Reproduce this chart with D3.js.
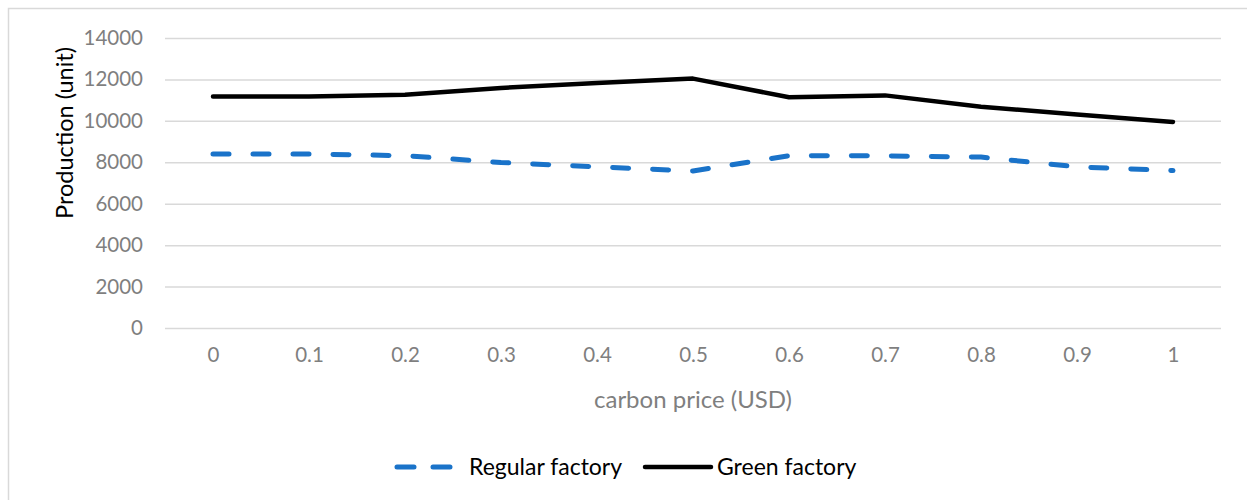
<!DOCTYPE html>
<html>
<head>
<meta charset="utf-8">
<script src="https://cdn.jsdelivr.net/npm/d3@7"></script>
<style>
  html, body { margin: 0; padding: 0; background: #fff; }
  svg { display: block; font-family: Lato, "Open Sans", sans-serif; }
</style>
</head>
<body>
<svg id="chart" width="1247" height="500"></svg>
<script>
// Production per factory type at each carbon price
const carbonPrices = ["0", "0.1", "0.2", "0.3", "0.4", "0.5", "0.6", "0.7", "0.8", "0.9", "1"];
const regularFactory = [8400, 8400, 8320, 7990, 7780, 7580, 8320, 8310, 8250, 7780, 7600];
const greenFactory = [11170, 11170, 11260, 11590, 11830, 12040, 11140, 11230, 10680, 10310, 9950];
const yTicks = [0, 2000, 4000, 6000, 8000, 10000, 12000, 14000];

const svg = d3.select("#chart");
const plot = { left: 165, right: 1221, top: 38, bottom: 328 };

// chart frame
svg.append("rect")
  .attr("x", 8.5).attr("y", 8.5)
  .attr("width", 1260).attr("height", 520)
  .attr("fill", "#fff")
  .attr("stroke", "#d9d9d9").attr("stroke-width", 1.5);

const x = d3.scalePoint().domain(carbonPrices).range([plot.left, plot.right]).padding(0.5);
const y = d3.scaleLinear().domain([0, 14000]).range([plot.bottom, plot.top]);

// horizontal gridlines + y tick labels
const yAxis = d3.axisLeft(y)
  .tickValues(yTicks)
  .tickSize(-(plot.right - plot.left))
  .tickPadding(22)
  .tickFormat(d3.format("d"));
const gy = svg.append("g").attr("transform", `translate(${plot.left},0)`).call(yAxis);
gy.select(".domain").remove();
gy.selectAll(".tick line").attr("stroke", "#d9d9d9").attr("stroke-width", 1.5);
gy.selectAll(".tick text")
  .attr("fill", "#7f7f7f").style("font-size", "20.5px")
  .attr("font-family", "Lato, 'Open Sans', sans-serif");

// x tick labels
const xAxis = d3.axisBottom(x).tickSize(0).tickPadding(19);
const gx = svg.append("g").attr("transform", `translate(0,${plot.bottom})`).call(xAxis);
gx.select(".domain").remove();
gx.selectAll(".tick text")
  .attr("fill", "#7f7f7f").style("font-size", "20.5px")
  .attr("font-family", "Lato, 'Open Sans', sans-serif");

// axis titles
svg.append("text")
  .attr("transform", "translate(73,133) rotate(-90)")
  .attr("text-anchor", "middle")
  .attr("fill", "#000").style("font-size", "23.5px")
  .text("Production (unit)");

svg.append("text")
  .attr("x", (plot.left + plot.right) / 2).attr("y", 408)
  .attr("text-anchor", "middle")
  .attr("fill", "#7f7f7f").style("font-size", "24px")
  .text("carbon price (USD)");

const line = d3.line().x((d, i) => x(carbonPrices[i])).y(d => y(d));

// green factory: solid black
svg.append("path")
  .datum(greenFactory)
  .attr("d", line)
  .attr("fill", "none")
  .attr("stroke", "#000")
  .attr("stroke-width", 4.5)
  .attr("stroke-linejoin", "round")
  .attr("stroke-linecap", "round");

// regular factory: blue dashed
svg.append("path")
  .datum(regularFactory)
  .attr("d", line)
  .attr("fill", "none")
  .attr("stroke", "#1a73c9")
  .attr("stroke-width", 5)
  .attr("stroke-dasharray", "16 24")
  .attr("stroke-linejoin", "round")
  .attr("stroke-linecap", "round");

// legend
const legend = svg.append("g");
legend.append("line")
  .attr("x1", 397).attr("x2", 456).attr("y1", 467).attr("y2", 467)
  .attr("stroke", "#1a73c9").attr("stroke-width", 5)
  .attr("stroke-dasharray", "17 19").attr("stroke-linecap", "round");
legend.append("text")
  .attr("x", 469).attr("y", 475)
  .attr("fill", "#000").style("font-size", "23px")
  .text("Regular factory");
legend.append("line")
  .attr("x1", 645).attr("x2", 711).attr("y1", 467).attr("y2", 467)
  .attr("stroke", "#000").attr("stroke-width", 4.5).attr("stroke-linecap", "round");
legend.append("text")
  .attr("x", 717).attr("y", 475)
  .attr("fill", "#000").style("font-size", "23px")
  .text("Green factory");
</script>
</body>
</html>
